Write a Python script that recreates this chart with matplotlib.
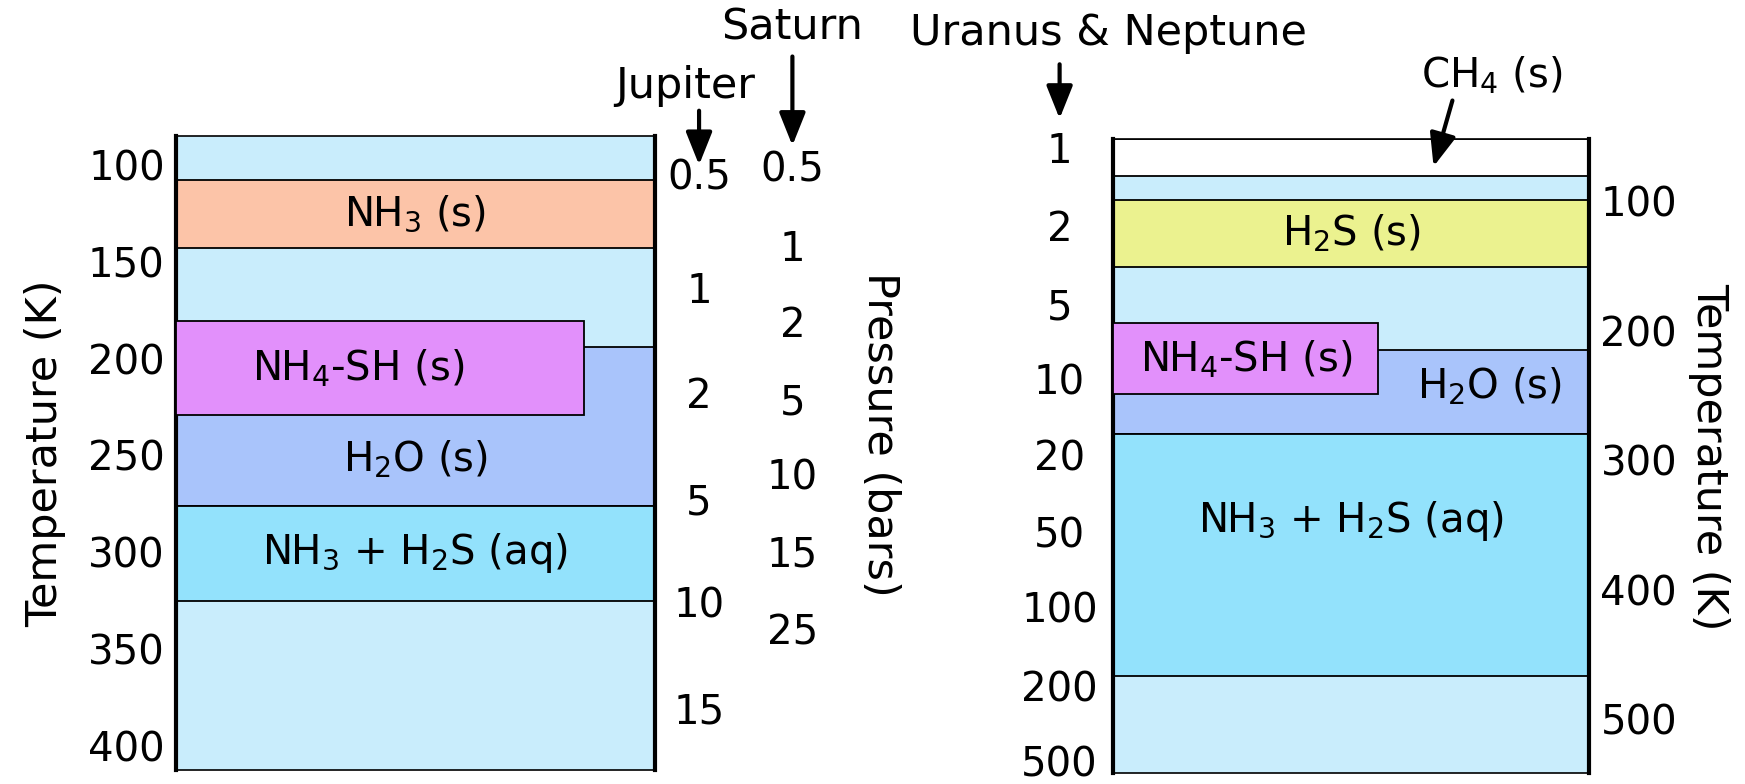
import matplotlib.pyplot as plt

plt.rcParams['font.family'] = ['DejaVu Sans']
plt.rcParams['mathtext.default'] = 'regular'

# ---- left column: Jupiter & Saturn (temperature in K) ----
left_temp_ticks = [100, 150, 200, 250, 300, 350, 400]
left_names = ['NH$_3$ (s)', 'H$_2$O (s)', 'NH$_4$-SH (s)', 'NH$_3$ + H$_2$S (aq)']
left_top = [108, 194, 180.5, 276]
left_bottom = [143, 276, 229, 325]
left_extent = [1.0, 1.0, 0.853, 1.0]
left_label_x = [0.5, 0.5, 0.38, 0.5]
left_label_t = [125.5, 252, 205, 300.5]

jupiter_p = ['0.5', '1', '2', '5', '10', '15']
jupiter_t = [107, 165.5, 220, 275, 328, 383]
saturn_p = ['0.5', '1', '2', '5', '10', '15', '25']
saturn_t = [103, 144, 183, 223, 262, 302, 342]

# ---- right column: Uranus & Neptune ----
right_temp_ticks = [100, 200, 300, 400, 500]
right_names = ['', 'H$_2$S (s)', 'H$_2$O (s)', 'NH$_4$-SH (s)', 'NH$_3$ + H$_2$S (aq)']
right_top = [52, 99, 215, 194, 280]
right_bottom = [80, 151, 280, 249, 467]
right_extent = [1.0, 1.0, 1.0, 0.556, 1.0]
right_label_x = [0.5, 0.5, 0.79, 0.28, 0.5]
right_label_t = [66, 125, 243, 222, 347]

uranus_p = ['1', '2', '5', '10', '20', '50', '100', '200', '500']
uranus_t = [62, 122, 183, 241, 299.5, 359, 417, 477.5, 536]

bg = '#c9edfc'
left_colors = ['#fcc4a8', '#a9c4fb', '#e290fb', '#93e2fc']
right_colors = ['white', '#ebf28f', '#a9c4fb', '#e290fb', '#93e2fc']

fig = plt.figure(figsize=(17.45, 7.84), dpi=100)
ax1 = fig.add_axes([0.1008, 0.0177, 0.2743, 0.809])
ax2 = fig.add_axes([0.6378, 0.0134, 0.2730, 0.8092])

fs = 29       # tick numbers, box labels
fs_big = 31   # titles and axis labels


def draw_column(ax, ylim, names, tops, bottoms, extents, colors, lx, lt):
    ax.set_facecolor(bg)
    ax.set_xlim(0, 1)
    ax.set_ylim(*ylim)
    ax.set_xticks([])
    for i in range(len(names)):
        ax.axhspan(tops[i], bottoms[i], xmin=0, xmax=extents[i],
                   facecolor=colors[i], edgecolor='black', linewidth=1.3,
                   zorder=2 + (extents[i] < 1))
        if names[i]:
            ax.text(lx[i], lt[i], names[i], ha='center', va='center',
                    fontsize=fs, zorder=5)
    for s in ['left', 'right']:
        ax.spines[s].set_linewidth(3)
    for s in ['top', 'bottom']:
        ax.spines[s].set_linewidth(1.2)
    ax.tick_params(axis='y', length=0, labelsize=fs, pad=8)


draw_column(ax1, (412.6, 85), left_names, left_top, left_bottom,
            left_extent, left_colors, left_label_x, left_label_t)
ax1.set_yticks(left_temp_ticks)
ax1.set_ylabel('Temperature (K)', fontsize=fs_big, labelpad=16)

draw_column(ax2, (542, 51.8), right_names, right_top, right_bottom,
            right_extent, right_colors, right_label_x, right_label_t)
ax2.yaxis.tick_right()
ax2.set_yticks(right_temp_ticks)
ax2.yaxis.set_label_position('right')
ax2.set_ylabel('Temperature (K)', fontsize=fs_big, rotation=270, labelpad=38)

# pressure scales
blend1 = ax1.get_yaxis_transform()
for p, t in zip(jupiter_p, jupiter_t):
    ax1.text(1.093, t, p, transform=blend1, ha='center', va='center', fontsize=fs)
for p, t in zip(saturn_p, saturn_t):
    ax1.text(1.288, t, p, transform=blend1, ha='center', va='center', fontsize=fs)
ax1.text(1.47, 239, 'Pressure (bars)', transform=blend1, ha='center',
         va='center', rotation=270, fontsize=fs_big)

blend2 = ax2.get_yaxis_transform()
for p, t in zip(uranus_p, uranus_t):
    ax2.text(-0.112, t, p, transform=blend2, ha='center', va='center', fontsize=fs)

arrow = dict(arrowstyle='-|>,head_length=0.5,head_width=0.2', lw=3,
             color='black', mutation_scale=40, shrinkA=0, shrinkB=0)

# planet titles with arrows
ax1.annotate('', xy=(1.093, 100), xytext=(1.093, 72),
             xycoords=blend1, textcoords=blend1, arrowprops=arrow)
ax1.text(1.065, 59, 'Jupiter', transform=blend1, ha='center', va='center',
         fontsize=fs_big)
ax1.annotate('', xy=(1.288, 90), xytext=(1.288, 44),
             xycoords=blend1, textcoords=blend1, arrowprops=arrow)
ax1.text(1.288, 29, 'Saturn', transform=blend1, ha='center', va='center',
         fontsize=fs_big)

ax2.annotate('', xy=(-0.112, 36), xytext=(-0.112, -6),
             xycoords=blend2, textcoords=blend2, arrowprops=arrow)
ax2.text(-0.01, -30, 'Uranus & Neptune', transform=blend2, ha='center',
         va='center', fontsize=fs_big)

ax2.annotate('', xy=(0.673, 73), xytext=(0.7126, 22),
             xycoords=blend2, textcoords=blend2, arrowprops=arrow)
ax2.text(0.795, 3, 'CH$_4$ (s)', transform=blend2, ha='center', va='center',
         fontsize=fs)

fig.savefig('out.png', dpi=100)
